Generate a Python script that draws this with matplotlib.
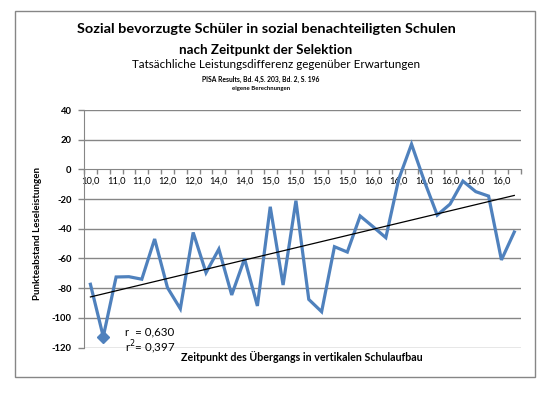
import numpy as np
import matplotlib
matplotlib.use("Agg")
import matplotlib.pyplot as plt
from matplotlib.patches import Rectangle

plt.rcParams['font.family'] = ['Lato', 'DejaVu Sans']

# ---- data ----
values = [-77.4, -112.7, -72.5, -72.3, -74.0, -46.9, -79.7, -93.9, -42.5,
          -69.6, -53.7, -84.6, -60.2, -92.0, -25.2, -77.9, -21.1, -87.6,
          -95.9, -52.1, -55.7, -31.4, -38.6, -46.0, -6.7, 17.0, -8.0,
          -30.8, -23.4, -7.9, -15.0, -18.0, -61.0, -42.2]
tick_labels = ["10,0", "11,0", "11,0", "12,0", "12,0", "14,0", "14,0", "15,0",
               "15,0", "15,0", "15,0", "16,0", "16,0", "16,0", "16,0", "16,0",
               "16,0"]
highlight_index = 1
y_ticks = [-120, -100, -80, -60, -40, -20, 0, 20, 40]

title1 = "Sozial bevorzugte Schüler in sozial benachteiligten Schulen"
title2 = "nach Zeitpunkt der Selektion"
subtitle = "Tatsächliche Leistungsdifferenz gegenüber Erwartungen"
source1 = "PISA Results, Bd. 4,S. 203, Bd. 2, S. 196"
source2 = "eigene Berechnungen"
xlabel = "Zeitpunkt des Übergangs in vertikalen Schulaufbau"
ylabel = "Punkteabstand Leseleistungen"
r_text = "r  = 0,630"
r2_text = "r$^2$= 0,397"

W, H = 551, 394
fig = plt.figure(figsize=(W / 100, H / 100), dpi=100)
renderer = fig.canvas.get_renderer()

def fx(px):
    return px / W

def fy(py):
    return 1 - py / H

def text_width_px(s, size, weight, rotation=0):
    t = fig.text(0, 0, s, fontsize=size, fontweight=weight, rotation=rotation)
    bb = t.get_window_extent(renderer)
    t.remove()
    return bb.height if rotation else bb.width

def fit_size(s, width_px, weight='normal', rotation=0):
    return 10 * width_px / text_width_px(s, 10, weight, rotation)

def fit_text(s, cx, cy, width_px, weight='normal', rotation=0, ha='center'):
    size = fit_size(s, width_px, weight, rotation)
    fig.text(fx(cx), fy(cy), s, fontsize=size, fontweight=weight, ha=ha,
             va='center', rotation=rotation)

# outer chart border
fig.patches.append(Rectangle((fx(14.5), fy(377)), fx(535) - fx(14.5), fy(10.5) - fy(377),
                             transform=fig.transFigure, fill=False,
                             edgecolor='#868686', linewidth=1.0))

left, right, top, bottom = 84, 520.7, 110, 347.5
ax = fig.add_axes([fx(left), fy(bottom), fx(right) - fx(left), fy(top) - fy(bottom)])

grid_col = '#868686'
blue = '#4F81BD'

n = len(values)
x = np.arange(n)
ax.set_xlim(-0.5, n - 0.5)
ax.set_ylim(-120, 40)

for yv in y_ticks:
    if yv != 0:
        ax.axhline(yv, color=grid_col, linewidth=1.0, zorder=1)

ax.plot(x, values, color=blue, linewidth=2.3, zorder=3, solid_joinstyle='miter')
ax.plot([x[highlight_index]], [values[highlight_index]], marker='D', markersize=6.3,
        color=blue, linestyle='none', zorder=4)

# linear trendline
coef = np.polyfit(x, values, 1)
ax.plot(x[[0, -1]], np.polyval(coef, x[[0, -1]]), color='black', linewidth=0.9, zorder=4)

for s in ['top', 'right']:
    ax.spines[s].set_visible(False)
ax.spines['left'].set_color(grid_col)
ax.spines['bottom'].set_color(grid_col)
ax.spines['bottom'].set_position(('data', 0))
ax.spines['bottom'].set_zorder(2)

ytick_size = fit_size("-120", 20, 'bold')
ax.set_yticks(y_ticks)
ax.set_yticklabels([str(v) for v in y_ticks], fontsize=ytick_size, fontweight='bold')
ax.tick_params(axis='y', direction='out', length=4.5, width=1, color=grid_col, pad=4.5)

xtick_size = fit_size("10,0", 18.5)
ax.set_xticks(np.arange(-0.5, n, 1.0))
ax.set_xticklabels([])
ax.tick_params(axis='x', which='major', direction='out', length=3.5, width=1, color=grid_col)
ax.set_xticks(np.arange(0, n, 2), minor=True)
ax.set_xticklabels(tick_labels, minor=True, fontsize=xtick_size)
ax.tick_params(axis='x', which='minor', length=0, pad=5.0)

fig.text(fx(125), fy(332), r_text, fontsize=8.3, ha='left', va='center')
fig.text(fx(125), fy(347.5), r2_text, fontsize=8.3, ha='left', va='center')

fit_text(title1, 266, 29, 378, 'bold')
fit_text(title2, 266, 49.5, 172, 'bold')
fit_text(subtitle, 276, 65, 285)
fit_text(source1, 261, 79, 118, 'bold')
fit_text(source2, 261, 88.5, 58, 'bold')
fit_text(xlabel, 302, 357, 241, 'bold')
fit_text(ylabel, 38, 233.5, 133, 'bold', rotation=90)

fig.savefig('out.png', dpi=100)
